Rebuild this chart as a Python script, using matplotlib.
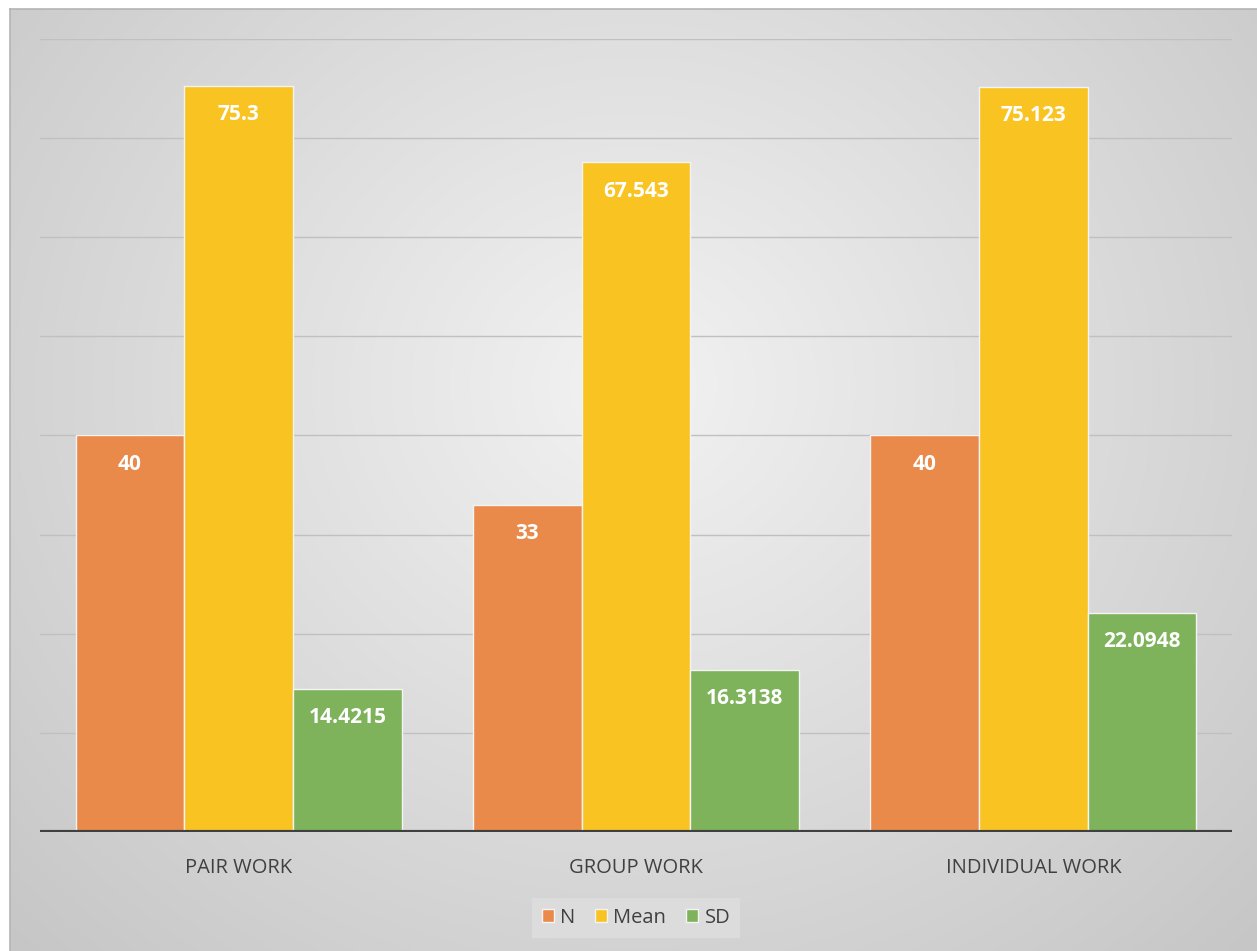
import numpy as np
import matplotlib.pyplot as plt
from matplotlib.colors import LinearSegmentedColormap

categories = ["PAIR WORK", "GROUP WORK", "INDIVIDUAL WORK"]
n_vals = [40, 33, 40]
mean_vals = [75.3, 67.543, 75.123]
sd_vals = [14.4215, 16.3138, 22.0948]
series = [("N", n_vals, "#E9894A"),
          ("Mean", mean_vals, "#F9C322"),
          ("SD", sd_vals, "#7EB35C")]

W, H = 1257, 951
fig = plt.figure(figsize=(W / 100, H / 100), dpi=100)
fig.patch.set_facecolor("white")

# chart area with a soft radial gray fill
bg = fig.add_axes([10 / W, 0, (W - 10) / W, (H - 9) / H])
yy, xx = np.mgrid[0:1:300j, 0:1:400j]
r = np.sqrt(((xx - 0.5) / 0.75) ** 2 + ((yy - 0.4) / 0.9) ** 2)
shade = np.clip(1 - r, 0, 1)
cmap = LinearSegmentedColormap.from_list("bg", ["#c6c6c6", "#f2f2f2"])
bg.imshow(shade, cmap=cmap, aspect="auto", extent=[0, 1, 0, 1],
          interpolation="bicubic", origin="upper")
bg.set_xlim(0, 1)
bg.set_ylim(0, 1)
bg.set_xticks([])
bg.set_yticks([])
for side in ["right", "bottom"]:
    bg.spines[side].set_visible(False)
for side in ["top", "left"]:
    bg.spines[side].set_color("#b4b4b4")
    bg.spines[side].set_linewidth(1.2)

ax = fig.add_axes([40 / W, (H - 832) / H, 1192 / W, 793 / H])
ax.patch.set_alpha(0)
x = np.arange(len(categories))
width = 0.2736
for i, (name, vals, color) in enumerate(series):
    pos = x + (i - 1) * width
    bars = ax.bar(pos, vals, width, color=color, edgecolor="#f4f4f4",
                  linewidth=1.0, label=name, zorder=3)
    for b, v in zip(bars, vals):
        ax.annotate(f"{v:g}", (b.get_x() + b.get_width() / 2, v),
                    xytext=(0, -13), textcoords="offset points",
                    ha="center", va="top", color="white",
                    fontsize=15, fontweight="bold", family="Open Sans",
                    zorder=4)

ax.set_xlim(-0.5, 2.5)
ax.set_ylim(0, 80)
ax.set_yticks(np.arange(10, 81, 10))
ax.yaxis.grid(True, color="#c0c0c0", linewidth=1.0, zorder=0)
ax.tick_params(axis="y", length=0, labelleft=False)
ax.tick_params(axis="x", length=0, pad=19)
ax.set_xticks(x)
ax.set_xticklabels(categories, fontsize=14.5, color="#404040", family="Open Sans")
for s in ax.spines.values():
    s.set_visible(False)
ax.axhline(0, color="#404040", linewidth=3, zorder=5)

leg = fig.legend(loc="lower center", bbox_to_anchor=(636 / W, 3 / H),
                 ncol=3, frameon=True, fontsize=14.5, handlelength=0.6,
                 handleheight=0.6, handletextpad=0.3, columnspacing=1.0,
                 borderpad=0.5, fancybox=False)
leg.get_frame().set_facecolor("#dcdcdc")
leg.get_frame().set_edgecolor("none")
leg.get_frame().set_alpha(1)
for t in leg.get_texts():
    t.set_color("#404040")
    t.set_family("Open Sans")

fig.savefig("out.png", dpi=100)
